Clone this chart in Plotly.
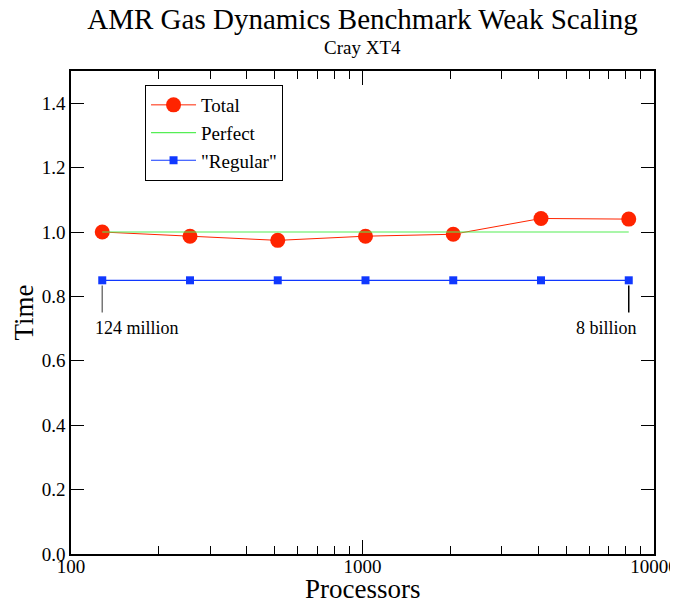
import math
import plotly.graph_objects as go

procs = [128, 256, 512, 1024, 2048, 4096, 8192]
total = [1.0, 0.987, 0.974, 0.987, 0.993, 1.042, 1.040]
perfect = [1.0, 1.0, 1.0, 1.0, 1.0, 1.0, 1.0]
regular = [0.85, 0.85, 0.85, 0.85, 0.85, 0.85, 0.85]
labels = ["124 million", "8 billion"]

x_major = [100, 1000, 10000]
x_major_text = ["100", "1000", "10000"]
x_minor = [200, 300, 400, 500, 600, 700, 800, 900,
           2000, 3000, 4000, 5000, 6000, 7000, 8000, 9000]

FONT = "Liberation Serif, Times New Roman, serif"
RED = "#ff2400"
GREEN = "#55ee55"
BLUE = "#1038ff"

# the page body adds an 8px margin; the figure is sized to compensate
W, H, OFF = 670, 597, 8

fig = go.Figure()
fig.add_trace(go.Scatter(x=procs, y=total, name="Total", mode="lines+markers",
                         line=dict(color=RED, width=1),
                         marker=dict(color=RED, size=15, symbol="circle")))
fig.add_trace(go.Scatter(x=procs, y=perfect, name="Perfect", mode="lines",
                         line=dict(color=GREEN, width=1.2)))
fig.add_trace(go.Scatter(x=procs, y=regular, name='"Regular"', mode="lines+markers",
                         line=dict(color=BLUE, width=1.2),
                         marker=dict(color=BLUE, size=8, symbol="square")))

# leader lines and labels for problem sizes
ends = [(procs[0], regular[0], "#777777", labels[0], "left", -9),
        (procs[-1], regular[-1], "#000000", labels[1], "right", 10)]
for xv, yv, col, txt, anc, sh in ends:
    fig.add_shape(type="line", xref="x", yref="y", x0=xv, x1=xv,
                  y0=yv - 0.016, y1=yv - 0.10, line=dict(color=col, width=1.5))
    fig.add_annotation(x=math.log10(xv), y=yv - 0.10, xref="x", yref="y", text=txt,
                       showarrow=False, xanchor=anc, yanchor="top", xshift=sh, yshift=-3,
                       font=dict(family=FONT, size=18, color="black"))

fig.add_annotation(text="Cray XT4", xref="paper", yref="paper", x=0.5, y=1.048,
                   showarrow=False, xanchor="center", yanchor="middle",
                   font=dict(family=FONT, size=19, color="black"))

# axis titles
fig.add_annotation(text="Processors", xref="paper", yref="paper", x=0.5, y=0,
                   showarrow=False, xanchor="center", yanchor="middle", yshift=-35,
                   font=dict(family=FONT, size=27, color="black"))
fig.add_annotation(text="Time", xref="paper", yref="paper", x=0, y=0.5,
                   showarrow=False, xanchor="center", yanchor="middle", xshift=-48,
                   textangle=-90,
                   font=dict(family=FONT, size=27, color="black"))

fig.update_layout(
    width=W, height=H,
    margin=dict(l=71 - OFF, r=24, t=71 - OFF, b=51, autoexpand=False),
    paper_bgcolor="white", plot_bgcolor="white",
    title=dict(text="AMR Gas Dynamics Benchmark Weak Scaling", x=0.5, xref="paper",
               y=1 - (19 - OFF) / H, yref="container", yanchor="middle",
               font=dict(family=FONT, size=29, color="black")),
    font=dict(family=FONT, color="black"),
    showlegend=True,
    legend=dict(x=0.127, y=0.971, xanchor="left", yanchor="top",
                bgcolor="white", bordercolor="black", borderwidth=1,
                itemwidth=45,
                font=dict(family=FONT, size=19, color="black"),
                tracegroupgap=0),
)
fig.update_xaxes(type="log", range=[2, 4], showgrid=False, zeroline=False,
                 automargin=False,
                 showline=True, linecolor="black", linewidth=1.5, mirror="ticks",
                 ticks="inside", ticklen=14, tickwidth=1, tickcolor="black",
                 tickvals=x_major, ticktext=x_major_text, ticklabelstandoff=-6,
                 tickfont=dict(family=FONT, size=19, color="black"),
                 minor=dict(tickvals=x_minor, ticks="inside", ticklen=8,
                            tickwidth=1, tickcolor="black", showgrid=False))
fig.update_yaxes(range=[0, 1.5], dtick=0.2, tick0=0, tickformat=".1f",
                 showgrid=False, zeroline=False, automargin=False,
                 showline=True, linecolor="black", linewidth=1.5, mirror="ticks",
                 ticks="inside", ticklen=13, tickwidth=1, tickcolor="black",
                 tickfont=dict(family=FONT, size=19, color="black"))

fig.write_html("out.html")
